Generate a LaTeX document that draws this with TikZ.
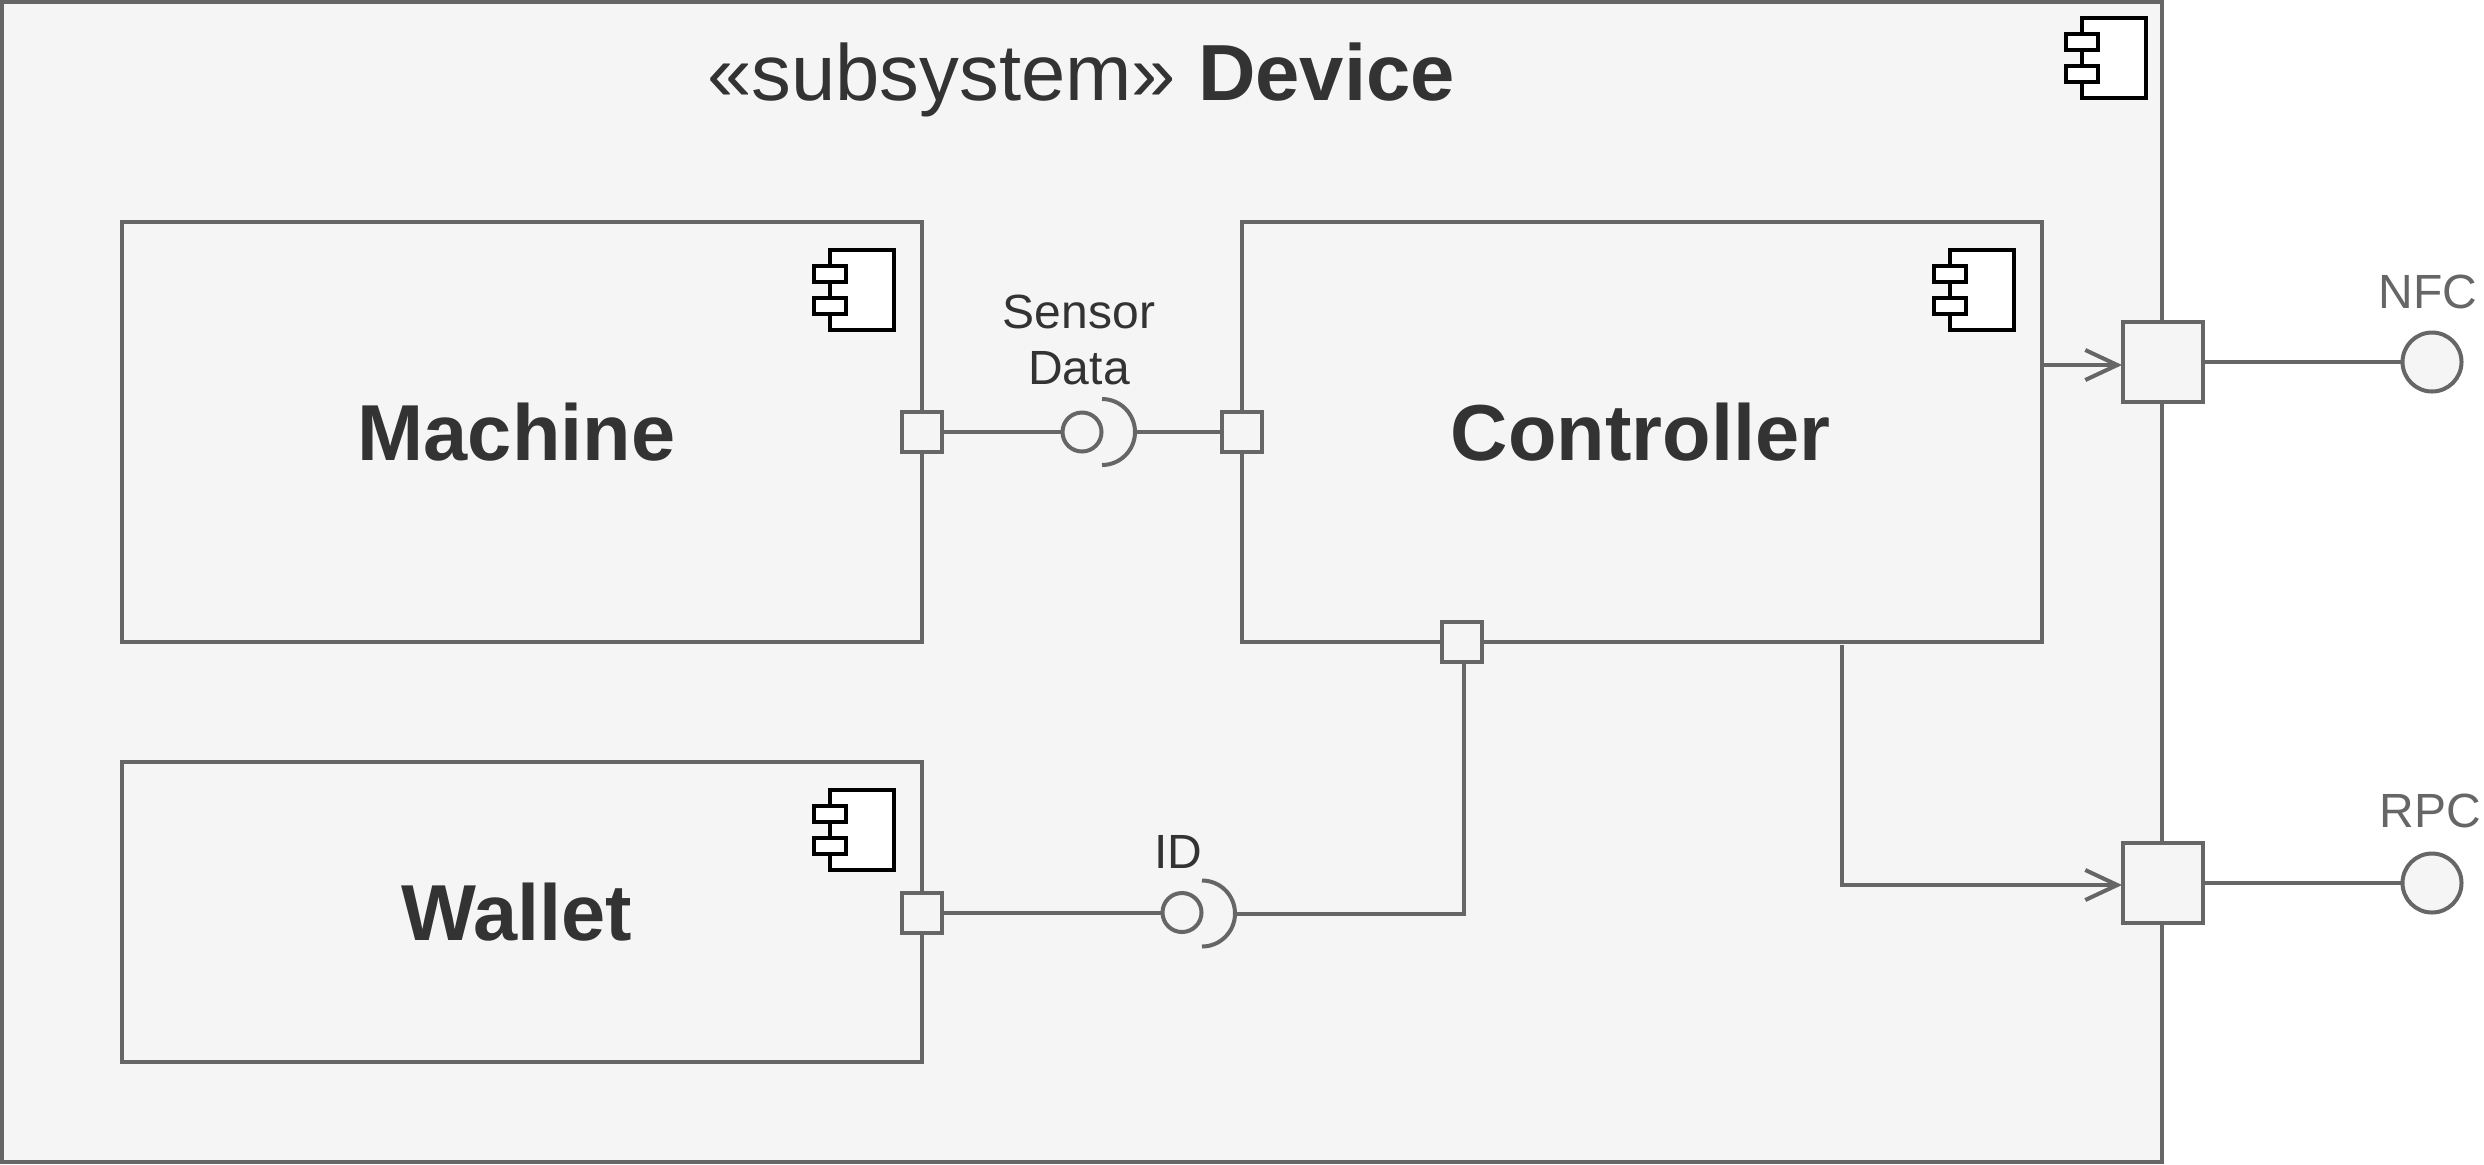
\documentclass[tikz,border=0pt]{standalone}
\usepackage{fontspec}
\setmainfont{Liberation Sans}
\usetikzlibrary{arrows.meta}
\definecolor{edgegrey}{HTML}{666666}
\definecolor{panelgrey}{HTML}{F5F5F5}
\definecolor{textdark}{HTML}{333333}
\newcommand{\compicon}[2]{%
  \draw[iconstroke] (#1,#2) rectangle ++(64,80);
  \draw[iconstroke] (#1-16,#2+16) rectangle ++(32,16);
  \draw[iconstroke] (#1-16,#2+48) rectangle ++(32,16);
}
\tikzset{
  x=0.5pt,y=-0.5pt,
  linegrey/.style={draw=edgegrey,line width=2pt},
  iconstroke/.style={draw=black,fill=white,line width=2pt},
  compbox/.style={linegrey,fill=panelgrey,rectangle,inner sep=0pt,outer sep=0pt},
  smallport/.style={compbox,minimum width=20pt,minimum height=20pt},
  bigport/.style={compbox,minimum width=40pt,minimum height=40pt},
  lollipop/.style={compbox,circle,minimum size=19.5pt},
  bigball/.style={compbox,circle,minimum size=29.5pt},
  flow/.style={linegrey,-{Straight Barb[length=16pt,width=15pt,line width=2pt]}},
  wire/.style={linegrey},
  titletext/.style={text=textdark,anchor=base,font=\fontsize{39.8}{48}\selectfont,inner sep=0pt},
  boxtext/.style={text=textdark,anchor=base,font=\fontsize{39.7}{48}\selectfont\bfseries,inner sep=0pt},
  smalltext/.style={text=textdark,anchor=base,font=\fontsize{24}{28}\selectfont,inner sep=0pt},
  outtext/.style={text=edgegrey,anchor=base,font=\fontsize{24}{28}\selectfont,inner sep=0pt},
}
\begin{document}
\begin{tikzpicture}
\useasboundingbox (0,0) rectangle (2484,1164);
% boxes
\node[compbox,minimum width=1080pt,minimum height=580pt] (device) at (1082,582) {};
\node[compbox,minimum width=400pt,minimum height=210pt] (machine) at (522,432) {};
\node[compbox,minimum width=400pt,minimum height=210pt] (controller) at (1642,432) {};
\node[compbox,minimum width=400pt,minimum height=150pt] (wallet) at (522,912) {};
% icons
\compicon{2082}{18}
\compicon{830}{250}
\compicon{1950}{250}
\compicon{830}{790}
% free ends of the connectors
\coordinate (sensorsock) at (1135,432);
\coordinate (idsock) at (1234,914);
\coordinate (idbend) at (1464,914);
\coordinate (idtop) at (1464,664);
\coordinate (nfcout) at (2042,365);
\coordinate (nfcin) at (2122,365);
\coordinate (rpcout) at (1841.5,645);
\coordinate (rpcbend) at (1841.5,885);
\coordinate (rpcin) at (2122,885);
% interface balls
\node[lollipop] (sensorball) at (1082,432) {};
\node[lollipop] (idball) at (1182,912.5) {};
\node[bigball] (nfcball) at (2432,362) {};
\node[bigball] (rpcball) at (2432,883) {};
% sockets
\draw[wire] (1102,399) arc[start angle=90,end angle=-90,radius=16.5pt];
\draw[wire] (1202,880.5) arc[start angle=90,end angle=-90,radius=16.5pt];
% ports
\node[smallport] (machineport) at (922,432) {};
\node[smallport] (sensorport) at (1242,432) {};
\node[smallport] (idport) at (1462,642) {};
\node[smallport] (walletport) at (922,912.5) {};
\node[bigport] (nfcport) at (2162.5,362) {};
\node[bigport] (rpcport) at (2162.5,883) {};
% connectors
\draw[wire] (machineport) -- (sensorball);
\draw[wire] (sensorsock) -- (sensorport);
\draw[wire] (walletport) -- (idball);
\draw[wire] (idsock) -- (idbend) -- (idtop);
\draw[wire] (nfcport) -- (nfcball);
\draw[wire] (rpcport) -- (rpcball);
\draw[flow] (nfcout) -- (nfcin);
\draw[flow] (rpcout) -- (rpcbend) -- (rpcin);
% labels
\node[titletext] (title) at (1081,100) {«subsystem» \textbf{Device}};
\node[boxtext] (machinelabel) at (516.5,460) {Machine};
\node[boxtext] (controllerlabel) at (1640.5,460) {Controller};
\node[boxtext] (walletlabel) at (516.5,940) {Wallet};
\node[smalltext] (sensorlabelA) at (1079,328) {Sensor};
\node[smalltext] (sensorlabelB) at (1079,384) {Data};
\node[smalltext] (idlabel) at (1178,868) {ID};
\node[outtext] (nfclabel) at (2428,308) {NFC};
\node[outtext] (rpclabel) at (2430,827) {RPC};
\end{tikzpicture}
\end{document}
